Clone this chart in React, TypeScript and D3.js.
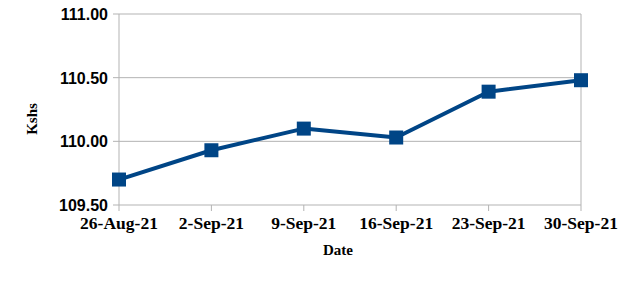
import React from "react";
import * as d3 from "d3";

const dates = ["26-Aug-21", "2-Sep-21", "9-Sep-21", "16-Sep-21", "23-Sep-21", "30-Sep-21"];
const values = [109.7, 109.93, 110.1, 110.03, 110.39, 110.48];
const yTicks = [109.5, 110.0, 110.5, 111.0];

const W = 632, H = 283;
const left = 119, right = 581, top = 14, bottom = 205;

export default function App() {
  const x = d3.scalePoint<string>().domain(dates).range([left, right]);
  const y = d3.scaleLinear().domain([109.5, 111.0]).range([bottom, top]);
  const line = d3.line<number>().x((_, i) => x(dates[i])!).y((d) => y(d));
  const grid = "#b3b3b3";
  const color = "#004586";
  return (
    <svg width={W} height={H} style={{ position: "absolute", left: 0, top: 0 }}>
      <rect width={W} height={H} fill="#fff" />
      {yTicks.map((t) => (
        <g key={t}>
          <line x1={left - 6} x2={right} y1={y(t)} y2={y(t)} stroke={grid} strokeWidth={1} />
          <text x={left - 11} y={y(t) + 6} textAnchor="end" fontFamily="Liberation Sans, Arial, sans-serif" fontWeight="bold" fontSize={16} fill="#000">
            {t.toFixed(2)}
          </text>
        </g>
      ))}
      <line x1={left} x2={left} y1={top} y2={bottom} stroke={grid} />
      <line x1={right} x2={right} y1={top} y2={bottom} stroke={grid} />
      {dates.map((d) => (
        <g key={d}>
          <line x1={x(d)} x2={x(d)} y1={bottom} y2={bottom + 6} stroke={grid} />
          <text x={x(d)} y={229} textAnchor="middle" fontFamily="Liberation Serif, serif" fontWeight="bold" fontSize={17.5} fill="#000">
            {d}
          </text>
        </g>
      ))}
      <path d={line(values)!} fill="none" stroke={color} strokeWidth={4} strokeLinejoin="round" />
      {values.map((v, i) => (
        <rect key={i} x={x(dates[i])! - 7} y={y(v) - 7} width={14} height={14} fill={color} />
      ))}
      <text x={338} y={255} textAnchor="middle" fontFamily="Liberation Serif, serif" fontWeight="bold" fontSize={15} fill="#000">Date</text>
      <text transform={`translate(37,119) rotate(-90)`} textAnchor="middle" fontFamily="Liberation Serif, serif" fontWeight="bold" fontSize={15} fill="#000">Kshs</text>
    </svg>
  );
}
